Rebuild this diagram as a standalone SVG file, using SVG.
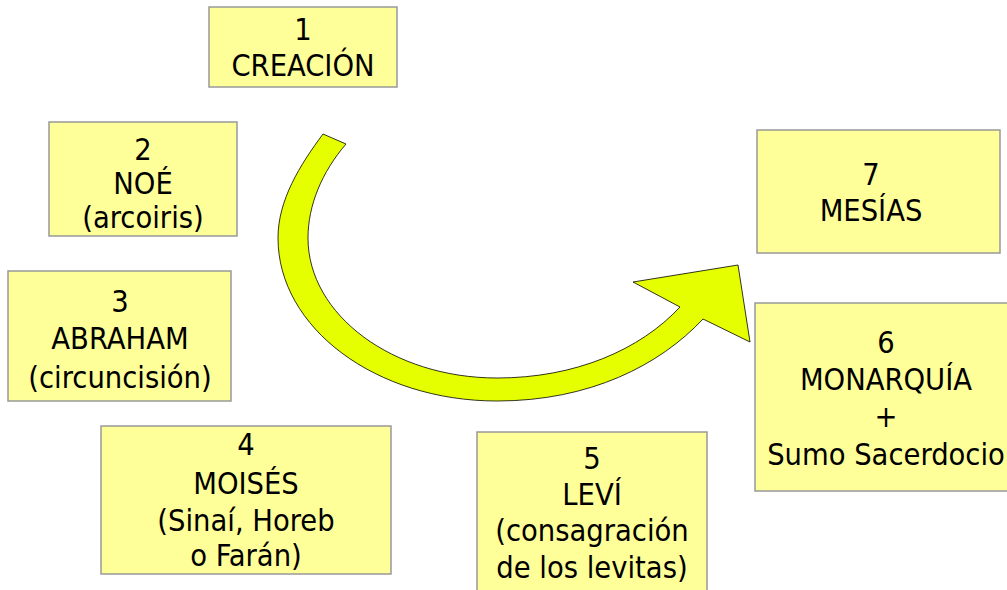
<svg xmlns="http://www.w3.org/2000/svg" width="1007" height="590" viewBox="0 0 1007 590">
<style>
.box{fill:#ffff99;stroke:#999999;stroke-width:1.5}
.t{font-family:"DejaVu Sans Condensed","DejaVu Sans",sans-serif;font-stretch:condensed;font-size:30.5px;fill:#000;text-anchor:middle}
.arrow{fill:#e6ff00;stroke:#000;stroke-width:0.8}
</style>
<rect width="1007" height="590" fill="#ffffff"/>
<g id="connectors">
<path class="arrow" d="M323,134 C300,165 278,200 278,238 C278,328 376,401 497,401 C590,401 660,365 703,319 L750,342 L738,265 L633,282 L680,307 C640,350 575,378 497,378 C393,378 308,315 308,238 C308,205 322,172 346,144 Z"/>
</g>
<g id="n1">
<rect class="box" x="209" y="7" width="188" height="80"/>
<text class="t" x="303" y="40">1</text>
<text class="t" x="303" y="76">CREACIÓN</text>
</g>
<g id="n2">
<rect class="box" x="49" y="122" width="188" height="114"/>
<text class="t" x="143" y="160">2</text>
<text class="t" x="143" y="194">NOÉ</text>
<text class="t" x="143" y="228">(arcoiris)</text>
</g>
<g id="n3">
<rect class="box" x="8" y="271" width="223" height="130"/>
<text class="t" x="120" y="312">3</text>
<text class="t" x="120" y="349">ABRAHAM</text>
<text class="t" x="120" y="388">(circuncisión)</text>
</g>
<g id="n4">
<rect class="box" x="101" y="426" width="290" height="148"/>
<text class="t" x="246" y="455">4</text>
<text class="t" x="246" y="494">MOISÉS</text>
<text class="t" x="246" y="531">(Sinaí, Horeb</text>
<text class="t" x="246" y="566">o Farán)</text>
</g>
<g id="n5">
<rect class="box" x="477" y="432" width="230" height="162"/>
<text class="t" x="592" y="469">5</text>
<text class="t" x="592" y="505">LEVÍ</text>
<text class="t" x="592" y="541">(consagración</text>
<text class="t" x="592" y="578">de los levitas)</text>
</g>
<g id="n6">
<rect class="box" x="755" y="303" width="256" height="188"/>
<text class="t" x="886" y="353">6</text>
<text class="t" x="886" y="390">MONARQUÍA</text>
<text class="t" x="886" y="427">+</text>
<text class="t" x="886" y="465">Sumo Sacerdocio</text>
</g>
<g id="n7">
<rect class="box" x="757" y="130" width="243" height="123"/>
<text class="t" x="871" y="185">7</text>
<text class="t" x="871" y="221">MESÍAS</text>
</g>
</svg>
